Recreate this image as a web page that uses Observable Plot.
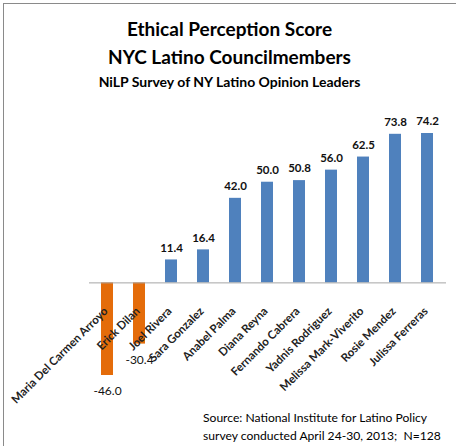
<!DOCTYPE html>
<html>
<head>
<meta charset="utf-8">
<script src="https://cdn.jsdelivr.net/npm/d3@7"></script>
<script src="https://cdn.jsdelivr.net/npm/@observablehq/plot@0.6"></script>
<style>
  html, body { margin: 0; padding: 0; background: #fff; }
  #wrap { position: relative; width: 456px; height: 446px; overflow: hidden; font-family: Lato, "Open Sans", sans-serif; }
  #frame { position: absolute; left: 3px; top: 3px; width: 460px; height: 460px; border-left: 1.5px solid #8a8a8a; border-top: 1.5px solid #8a8a8a; }
  .ttl { position: absolute; left: 3px; width: 453px; text-align: center; font-weight: bold; color: #000; white-space: nowrap; }
  #t1 { top: 17px; font-size: 19px; }
  #t2 { top: 45px; font-size: 19px; }
  #t3 { top: 73px; font-size: 14px; }
  #cap { position: absolute; left: 203px; top: 409px; font-size: 12.1px; line-height: 18px; color: #000; white-space: pre; }
  #chart { position: absolute; left: 0; top: 0; }
</style>
</head>
<body>
<div id="wrap">
  <div id="chart"></div>
  <div id="frame"></div>
  <div class="ttl" id="t1">Ethical Perception Score</div>
  <div class="ttl" id="t2">NYC Latino Councilmembers</div>
  <div class="ttl" id="t3">NiLP Survey of NY Latino Opinion Leaders</div>
  <div id="cap">Source: National Institute for Latino Policy
survey conducted April 24-30, 2013;  N=128</div>
</div>
<script>
// Council members, ordered from lowest to highest score
const names = [
  "Maria Del Carmen Arroyo", "Erick Dilan", "Joel Rivera", "Sara Gonzalez",
  "Anabel Palma", "Diana Reyna", "Fernando Cabrera", "Yadnis Rodriguez",
  "Melissa Mark-Viverito", "Rosie Mendez", "Julissa Ferreras"
];
const scores = [-46.0, -30.4, 11.4, 16.4, 42.0, 50.0, 50.8, 56.0, 62.5, 73.8, 74.2];

const blue = "#4f81bd";
const orange = "#e46c0a";

const data = names.map((name, i) => ({name, score: scores[i]}));
const pos = data.filter(d => d.score >= 0);
const neg = data.filter(d => d.score < 0);

const chart = Plot.plot({
  width: 456,
  height: 446,
  marginLeft: 89,
  marginRight: 10,
  marginTop: 133,
  marginBottom: 71,
  x: {domain: names, paddingInner: 0.62, paddingOuter: 0.31, axis: null},
  y: {domain: [-46, 74.2], axis: null},
  color: {type: "identity"},
  style: {fontFamily: "Lato, 'Open Sans', sans-serif", background: "transparent"},
  marks: [
    Plot.barY(data, {x: "name", y: "score", fill: d => d.score < 0 ? orange : blue}),
    Plot.ruleY([0], {stroke: "#a6a6a6", strokeWidth: 1}),
    Plot.text(pos, {x: "name", y: "score", text: d => d.score.toFixed(1), dy: -12,
      fontSize: 11.5, fontWeight: "bold", fill: "#111"}),
    Plot.text(neg, {x: "name", y: "score", text: d => d.score.toFixed(1), dy: 16,
      fontSize: 12, fill: "#111"}),
    Plot.text(data, {x: "name", y: () => 0, text: "name", rotate: -45, textAnchor: "end",
      lineAnchor: "bottom", dx: 1, dy: 29, fontSize: 11.5, fontWeight: "bold", fill: "#222"})
  ]
});
document.getElementById("chart").appendChild(chart);
</script>
</body>
</html>
